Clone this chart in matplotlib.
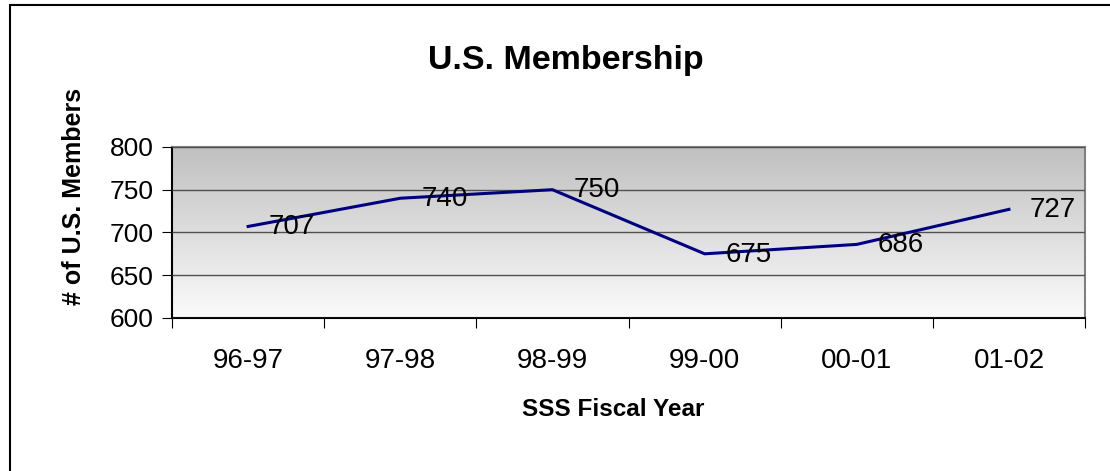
import matplotlib

matplotlib.use('Agg')
import matplotlib.pyplot as plt
import numpy as np
from matplotlib.patches import Rectangle

years = ['96-97', '97-98', '98-99', '99-00', '00-01', '01-02']
members = [707, 740, 750, 675, 686, 727]
yticks = [600, 650, 700, 750, 800]

plt.rcParams['font.family'] = ['Liberation Sans', 'DejaVu Sans']

fig = plt.figure(figsize=(11.1, 4.71), dpi=100)
ax = fig.add_axes([0.155, 0.325, 0.8225, 0.363])

# grey-to-white gradient in the plot area
grad = np.linspace(0, 1, 256).reshape(-1, 1)
ax.imshow(grad, cmap=matplotlib.colors.LinearSegmentedColormap.from_list(
    'g', ['#c0c0c0', '#fbfbfb']), aspect='auto', extent=(0, 1, 0, 1),
    transform=ax.transAxes, zorder=0)

x = np.arange(len(years)) + 0.5
ax.plot(x, members, color='#000080', lw=2.2, zorder=3)
for xi, v in zip(x, members):
    ax.annotate(str(v), (xi, v), xytext=(15, -0.5), textcoords='offset points',
                ha='left', va='center', fontsize=20, zorder=4)

ax.set_xlim(0, len(years))
ax.set_ylim(600, 800)
ax.set_yticks(yticks)
ax.set_yticklabels([str(t) for t in yticks], fontsize=19)
ax.set_xticks(np.arange(len(years) + 1))
ax.set_xticklabels([])
ax.set_xticks(x, minor=True)
ax.set_xticklabels(years, minor=True, fontsize=20)
ax.tick_params(axis='x', which='minor', length=0, pad=22)
ax.tick_params(axis='x', which='major', length=7, color='black', direction='out')
ax.tick_params(axis='y', length=7, color='black', direction='out', pad=6)
ax.yaxis.grid(True, color='#505050', lw=1.0, zorder=1)
ax.set_axisbelow(False)
for s in ax.spines.values():
    s.set_color('#808080')
    s.set_linewidth(1.5)
ax.spines['left'].set_color('black')
ax.spines['bottom'].set_color('black')

fig.text(74 / 1110, 1 - 196 / 471, '# of U.S. Members', rotation=90,
         ha='center', va='center', fontsize=18, fontweight='bold')
fig.text(613 / 1110, 1 - 409 / 471, 'SSS Fiscal Year', ha='center',
         va='center', fontsize=17.5, fontweight='bold')
fig.text(566 / 1110, 1 - 61 / 471, 'U.S. Membership', ha='center',
         va='center', fontsize=24.5, fontweight='bold')

# outer chart border (right/bottom run off the image)
fig.patches.append(Rectangle((10 / 1110, -0.05), 1.2, 1 - 5 / 471 + 0.05,
                             transform=fig.transFigure, fill=False,
                             edgecolor='black', lw=1.5))

fig.savefig('out.png', dpi=100)
